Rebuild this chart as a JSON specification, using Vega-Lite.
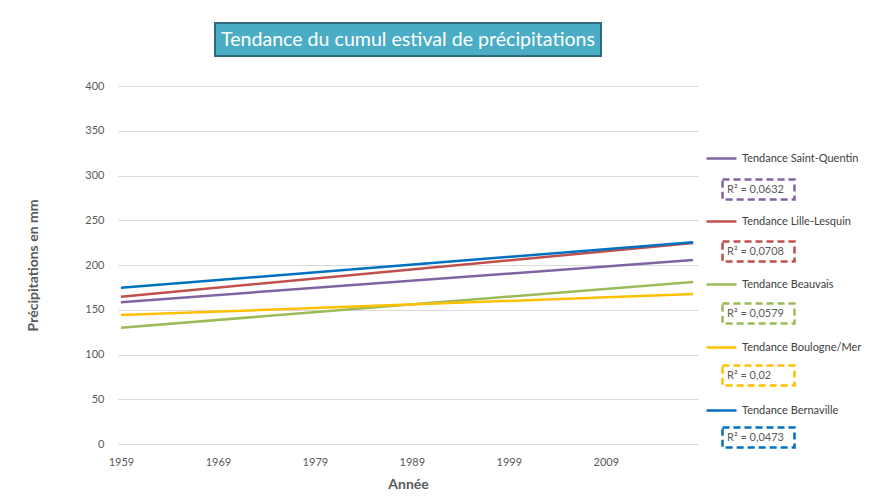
{
  "$schema": "https://vega.github.io/schema/vega-lite/v6.json",
  "padding": {"left": 26, "top": 22, "right": 0, "bottom": 0},
  "background": "white",
  "config": {
    "view": {"stroke": null},
    "font": "Lato",
    "axis": {"labelFont": "Lato", "titleFont": "Lato"},
    "legend": {"labelFont": "Lato"}
  },
  "bounds": "flush",
  "center": true,
  "spacing": 30,
  "vconcat": [
    {
      "width": 386,
      "height": 33,
      "data": {"values": [{"titre": "Tendance du cumul estival de précipitations"}]},
      "layer": [
        {"mark": {"type": "rect", "fill": "#4BACC6", "stroke": "#2F6B7C", "strokeWidth": 2}, "encoding": {}},
        {"mark": {"type": "text", "color": "white", "fontSize": 19.6, "font": "Lato", "baseline": "middle", "align": "center"},
         "encoding": {"text": {"field": "titre"}}}
      ]
    },
    {
      "width": 580,
      "height": 358,
      "data": {"values": [
        {"serie": "Tendance Saint-Quentin", "r2": "R² = 0,0632", "annee": 1959, "precip": 158.5},
        {"serie": "Tendance Saint-Quentin", "r2": "R² = 0,0632", "annee": 2018, "precip": 205.5},
        {"serie": "Tendance Lille-Lesquin", "r2": "R² = 0,0708", "annee": 1959, "precip": 164.5},
        {"serie": "Tendance Lille-Lesquin", "r2": "R² = 0,0708", "annee": 2018, "precip": 224.5},
        {"serie": "Tendance Beauvais", "r2": "R² = 0,0579", "annee": 1959, "precip": 130},
        {"serie": "Tendance Beauvais", "r2": "R² = 0,0579", "annee": 2018, "precip": 181},
        {"serie": "Tendance Boulogne/Mer", "r2": "R² = 0,02", "annee": 1959, "precip": 144},
        {"serie": "Tendance Boulogne/Mer", "r2": "R² = 0,02", "annee": 2018, "precip": 167.5},
        {"serie": "Tendance Bernaville", "r2": "R² = 0,0473", "annee": 1959, "precip": 174.5},
        {"serie": "Tendance Bernaville", "r2": "R² = 0,0473", "annee": 2018, "precip": 225.5}
      ]},
      "layer": [
        {
          "mark": {"type": "line", "strokeWidth": 2.5},
          "encoding": {
            "x": {"field": "annee", "type": "quantitative",
                  "scale": {"domain": [1958.7, 2018.5], "nice": false, "zero": false},
                  "axis": {"values": [1959, 1969, 1979, 1989, 1999, 2009], "format": "d", "title": "Année",
                           "grid": false, "ticks": false, "domain": false,
                           "labelFontSize": 11, "labelColor": "#595959", "labelPadding": 12,
                           "titleFontSize": 14, "titleFontWeight": "bold", "titleColor": "#595959", "titlePadding": 10}},
            "y": {"field": "precip", "type": "quantitative",
                  "scale": {"domain": [0, 400], "nice": false},
                  "axis": {"values": [0, 50, 100, 150, 200, 250, 300, 350, 400], "title": "Précipitations en mm",
                           "grid": true, "gridColor": "#D9D9D9", "gridWidth": 1, "ticks": false, "domain": false,
                           "labelFontSize": 11, "labelColor": "#595959", "labelPadding": 14,
                           "titleFontSize": 14, "titleFontWeight": "bold", "titleColor": "#595959", "titlePadding": 44}},
            "color": {"field": "serie", "type": "nominal",
                      "scale": {"domain": ["Tendance Saint-Quentin", "Tendance Lille-Lesquin", "Tendance Beauvais", "Tendance Boulogne/Mer", "Tendance Bernaville"],
                                "range": ["#8064A2", "#C0504D", "#9BBB59", "#FFC000", "#0070C0"]},
                      "legend": {"title": null, "orient": "none", "legendX": 587, "legendY": 119,
                                 "symbolType": "stroke", "symbolSize": 900, "symbolStrokeWidth": 2.5,
                                 "labelFontSize": 11, "labelColor": "#404040", "labelOffset": 4,
                                 "rowPadding": 41}}
          }
        },
        {
          "mark": {"type": "point", "opacity": 0},
          "encoding": {
            "x": {"field": "annee", "type": "quantitative"},
            "y": {"field": "precip", "type": "quantitative"},
            "stroke": {"field": "r2", "type": "nominal",
                      "scale": {"domain": ["R² = 0,0632", "R² = 0,0708", "R² = 0,0579", "R² = 0,02", "R² = 0,0473"],
                                "range": ["#8064A2", "#C0504D", "#9BBB59", "#FFC000", "#0070C0"]},
                      "legend": {"title": null, "orient": "none", "legendX": 603, "legendY": 129,
                                 "symbolSize": 5184, "symbolStrokeWidth": 2.5, "symbolDash": [7, 4],
                                 "symbolFillColor": "transparent",
                                 "labelFontSize": 11, "labelColor": "#595959", "labelOffset": -69,
                                 "rowPadding": 9,
                                 "encode": {"symbols": {"update": {"opacity": {"value": 1}}}}}},
            "shape": {"field": "r2", "type": "nominal",
                      "scale": {"domain": ["R² = 0,0632", "R² = 0,0708", "R² = 0,0579", "R² = 0,02", "R² = 0,0473"],
                                "range": ["M-1,-0.28L1,-0.28L1,0.28L-1,0.28Z"]},
                      "legend": {"title": null, "orient": "none", "legendX": 603, "legendY": 129,
                                 "symbolSize": 5184, "symbolStrokeWidth": 2.5, "symbolDash": [7, 4],
                                 "symbolFillColor": "transparent",
                                 "labelFontSize": 11, "labelColor": "#595959", "labelOffset": -69,
                                 "rowPadding": 9,
                                 "encode": {"symbols": {"update": {"opacity": {"value": 1}}}}}}
          }
        }
      ]
    }
  ]
}
